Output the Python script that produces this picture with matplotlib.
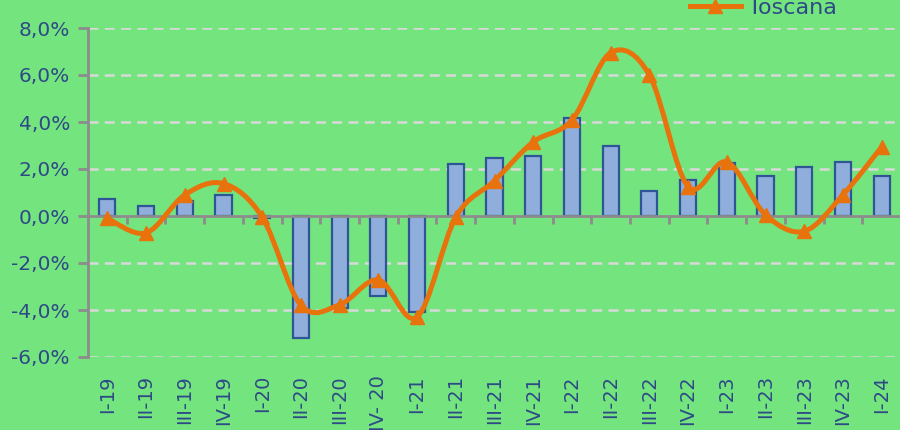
"""
Toscana quarterly growth: bars plus smoothed line, Excel-like styling.
"""

import matplotlib
matplotlib.use("Agg")
import matplotlib.pyplot as plt
from matplotlib.path import Path
from matplotlib.patches import PathPatch
from matplotlib.lines import Line2D
from matplotlib.ticker import FuncFormatter, FixedLocator


QUARTERS = [
    "I-19", "II-19", "III-19", "IV-19",
    "I-20", "II-20", "III-20", "IV- 20",
    "I-21", "II-21", "III-21", "IV-21",
    "I-22", "II-22", "III-22", "IV-22",
    "I-23", "II-23", "III-23", "IV-23",
    "I-24",
]
BARS = [0.72, 0.43, 0.64, 0.90, -0.08, -5.20, -3.90, -3.40, -4.10, 2.20, 2.47,
        2.55, 4.17, 2.98, 1.06, 1.53, 2.25, 1.70, 2.08, 2.30, 1.70]
TOSCANA = [-0.10, -0.72, 0.90, 1.38, -0.05, -3.80, -3.78, -2.72, -4.30, -0.05,
           1.50, 3.15, 4.08, 6.95, 6.00, 1.25, 2.30, 0.05, -0.65, 0.90, 2.94]
Y_TICKS = [-6, -4, -2, 0, 2, 4, 6, 8]

BG = "#74E47F"
BAR_FACE = "#8FAEDC"
BAR_EDGE = "#2F5597"
ORANGE = "#E8720C"
TEXT = "#2E4A86"
AXIS_GRAY = "#8C8C8C"


def smooth_path(xs, ys):
    # Excel-style smoothed line as cubic Bezier segments
    n = len(xs)
    verts = [(xs[0], ys[0])]
    codes = [Path.MOVETO]
    for i in range(n - 1):
        p0 = max(i - 1, 0)
        p3 = min(i + 2, n - 1)
        c1 = (xs[i] + (xs[i + 1] - xs[p0]) / 6, ys[i] + (ys[i + 1] - ys[p0]) / 6)
        c2 = (xs[i + 1] - (xs[p3] - xs[i]) / 6, ys[i + 1] - (ys[p3] - ys[i]) / 6)
        verts += [c1, c2, (xs[i + 1], ys[i + 1])]
        codes += [Path.CURVE4] * 3
    return Path(verts, codes)


fig = plt.figure(figsize=(9, 4.3), dpi=100)
fig.patch.set_facecolor(BG)
ax = fig.add_axes([88 / 900, 73 / 430, 813 / 900, 329 / 430])
ax.set_facecolor(BG)

x = list(range(len(QUARTERS)))

ax.bar(x, BARS, width=0.42, color=BAR_FACE, edgecolor=BAR_EDGE,
       linewidth=1.6, zorder=2)

curve = PathPatch(smooth_path(x, TOSCANA), facecolor="none", edgecolor=ORANGE,
                  linewidth=3.6, capstyle="round", joinstyle="round", zorder=3)
ax.add_patch(curve)
ax.plot(x, TOSCANA, linestyle="none", marker="^", markersize=10,
        color=ORANGE, zorder=4)

ax.set_xlim(-0.5, len(QUARTERS) - 0.5)
ax.set_ylim(-6, 8)

# y axis
ax.yaxis.set_major_locator(FixedLocator(Y_TICKS))
ax.yaxis.set_major_formatter(
    FuncFormatter(lambda v, _: f"{v:.1f}%".replace(".", ",")))
ax.tick_params(axis="y", direction="out", length=7, width=2, color=AXIS_GRAY,
               labelsize=14.5, labelcolor=TEXT, pad=6)
ax.grid(axis="y", color="#D9D9D9", linestyle=(0, (4, 2.5)), linewidth=1.8,
        zorder=1)
ax.set_axisbelow(True)

# category axis crossing at zero, tick marks between categories
ax.spines["bottom"].set_position(("data", 0))
ax.spines["bottom"].set_color(AXIS_GRAY)
ax.spines["bottom"].set_linewidth(2)
ax.spines["bottom"].set_zorder(2.5)
ax.spines["left"].set_color(AXIS_GRAY)
ax.spines["left"].set_linewidth(2)
ax.spines["top"].set_visible(False)
ax.spines["right"].set_visible(False)
ax.xaxis.set_major_locator(FixedLocator([i + 0.5 for i in x[:-1]]))
ax.tick_params(axis="x", direction="out", length=6, width=2, color=AXIS_GRAY,
               labelbottom=False)

# category labels at the bottom of the plot area
for i, lab in enumerate(QUARTERS):
    ax.text(i, -0.055, lab, transform=ax.get_xaxis_transform(), rotation=90,
            ha="center", va="top", fontsize=14, color=TEXT)

handle = Line2D([], [], color=ORANGE, linewidth=3.6, marker="^",
                markersize=10)
fig.legend([handle], ["Toscana"], loc="center", bbox_to_anchor=(0.848, 0.982),
           frameon=False, fontsize=16, labelcolor=TEXT, handlelength=2.3,
           handletextpad=0.3, borderpad=0)

fig.savefig("out.png", dpi=100, facecolor=BG)
